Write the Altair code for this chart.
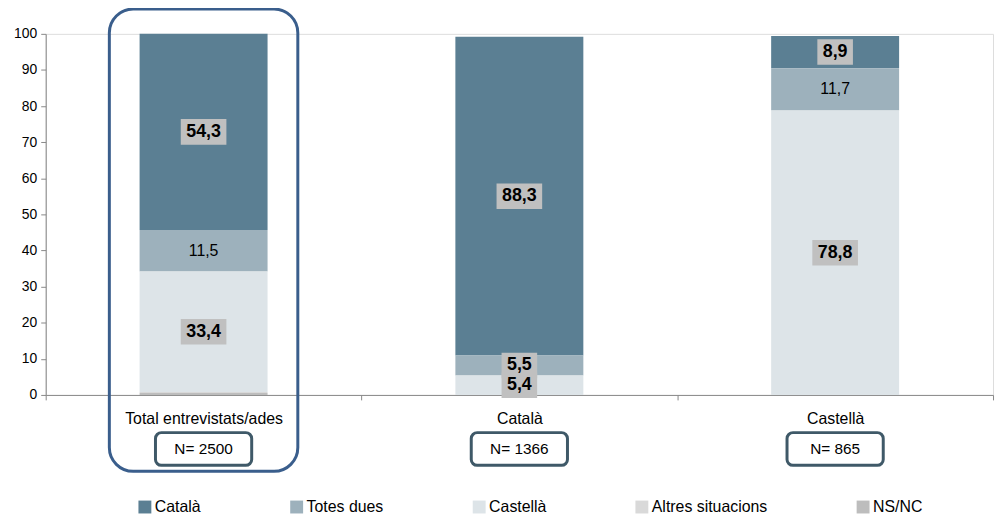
import altair as alt
import pandas as pd

categories = ["Total entrevistats/ades", "Català", "Castellà"]
series = ["Català", "Totes dues", "Castellà", "Altres situacions", "NS/NC"]
stack_rank = [4, 3, 2, 1, 0]
colors = ["#5B7F93", "#9DB1BC", "#DDE4E8", "#D9D9D9", "#BDBDBD"]

catala = [54.3, 88.3, 8.9]
totes_dues = [11.5, 5.5, 11.7]
castella = [33.4, 5.4, 78.8]
altres = [0.3, 0.0, 0.0]
nsnc = [0.5, 0.0, 0.0]
n_values = [2500, 1366, 865]

# which labels are bold with a grey box
boxed_catala = [True, True, True]
boxed_totes = [False, True, False]
boxed_castella = [True, True, True]

values = [catala, totes_dues, castella, altres, nsnc]
boxed = [boxed_catala, boxed_totes, boxed_castella, [False] * 3, [False] * 3]
show = [True, True, True, False, False]

rows = []
for si, s in enumerate(series):
    for ci, c in enumerate(categories):
        rows.append({"cat": c, "serie": s, "value": values[si][ci],
                     "ord": stack_rank[si], "boxed": boxed[si][ci],
                     "show": show[si]})
df = pd.DataFrame(rows)

ndf = pd.DataFrame({"cat": categories, "n": n_values})
hdf = pd.DataFrame({"cat": [categories[0]]})

FONT = "Liberation Sans"

x_axis = alt.Axis(title=None, labelFontSize=16, labelColor="#000000",
                  labelFont=FONT, labelAngle=0, labelPadding=11,
                  domainColor="#888888", tickColor="#888888",
                  tickBand="extent", tickSize=5, labelLimit=400)
y_axis = alt.Axis(title=None, values=list(range(0, 101, 10)), tickCount=12,
                  grid=False, labelFontSize=14, labelFont=FONT,
                  labelColor="#000000", domainColor="#888888",
                  tickColor="#888888", tickSize=5, labelPadding=4,
                  labelOverlap=False)
x_scale = alt.Scale(paddingInner=0, paddingOuter=0)
y_scale = alt.Scale(domain=[0, 100], nice=False)


def X():
    return alt.X("cat:N", sort=categories, scale=x_scale, axis=x_axis)


def Y(field):
    return alt.Y(field, scale=y_scale, axis=y_axis)


bars = alt.Chart(df).mark_bar(size=129).encode(
    x=X(),
    y=alt.Y("value:Q", stack="zero", scale=y_scale, axis=y_axis),
    color=alt.Color("serie:N", sort=series,
                    scale=alt.Scale(domain=series, range=colors),
                    legend=alt.Legend(title=None, orient="none", direction="horizontal",
                                      legendX=92, legendY=469, symbolType="square",
                                      symbolSize=169, symbolStrokeWidth=0,
                                      labelFontSize=16, labelFont=FONT,
                                      labelColor="#000000", columnPadding=88,
                                      labelOffset=2, labelLimit=300)),
    order=alt.Order("ord:Q", sort="ascending"),
)

base_lab = alt.Chart(df).transform_stack(
    stack="value", groupby=["cat"], sort=[alt.SortField("ord", order="ascending")],
    as_=["y0", "y1"]
).transform_filter("datum.show").transform_calculate(
    mid="(datum.y0 + datum.y1) / 2",
    txt="replace(format(datum.value, '.1f'), '.', ',')",
    tlen="length(replace(format(datum.value, '.1f'), '.', ','))",
)

path3 = "M -0.78 -0.56 L 0.78 -0.56 L 0.78 0.56 L -0.78 0.56 Z"
path4 = "M -1 -0.56 L 1 -0.56 L 1 0.56 L -1 0.56 Z"

boxes3 = base_lab.transform_filter("datum.boxed && datum.tlen <= 3").mark_point(
    filled=True, opacity=1, color="#C0C0C0", strokeWidth=0, size=46 * 46,
    shape=path3
).encode(x=X(), y=Y("mid:Q"))

boxes4 = base_lab.transform_filter("datum.boxed && datum.tlen > 3").mark_point(
    filled=True, opacity=1, color="#C0C0C0", strokeWidth=0, size=46 * 46,
    shape=path4
).encode(x=X(), y=Y("mid:Q"))

bold_text = base_lab.transform_filter("datum.boxed").mark_text(
    font=FONT, fontSize=18, fontWeight="bold", color="#000000", baseline="middle"
).encode(x=X(), y=Y("mid:Q"), text="txt:N")

plain_text = base_lab.transform_filter("!datum.boxed").mark_text(
    font=FONT, fontSize=16, color="#000000", baseline="middle"
).encode(x=X(), y=Y("mid:Q"), text="txt:N")

highlight = alt.Chart(hdf).mark_rect(
    width=190, filled=False, stroke="#3A5E8C", strokeWidth=3, cornerRadius=24
).encode(x=X(), y=alt.value(-25), y2=alt.value(441))

nboxes = alt.Chart(ndf).mark_rect(
    width=97, fill="white", stroke="#3F5968", strokeWidth=3, cornerRadius=6
).encode(x=X(), y=alt.value(402), y2=alt.value(435))

ntext = alt.Chart(ndf).transform_calculate(
    lab="'N= ' + datum.n"
).mark_text(font=FONT, fontSize=15.5, color="#000000", baseline="middle").encode(
    x=X(), y=alt.value(418.5), text="lab:N")

chart = alt.layer(bars, plain_text, boxes3, boxes4, bold_text, highlight, nboxes,
                  ntext).properties(
    width=955, height=364,
    autosize=alt.AutoSizeParams(type="none"),
    padding={"left": 38, "top": 24, "right": 3, "bottom": 121},
).configure_view(stroke=None).configure(background="white")

chart.save("out.html", embed_options={"renderer": "svg", "actions": False})
